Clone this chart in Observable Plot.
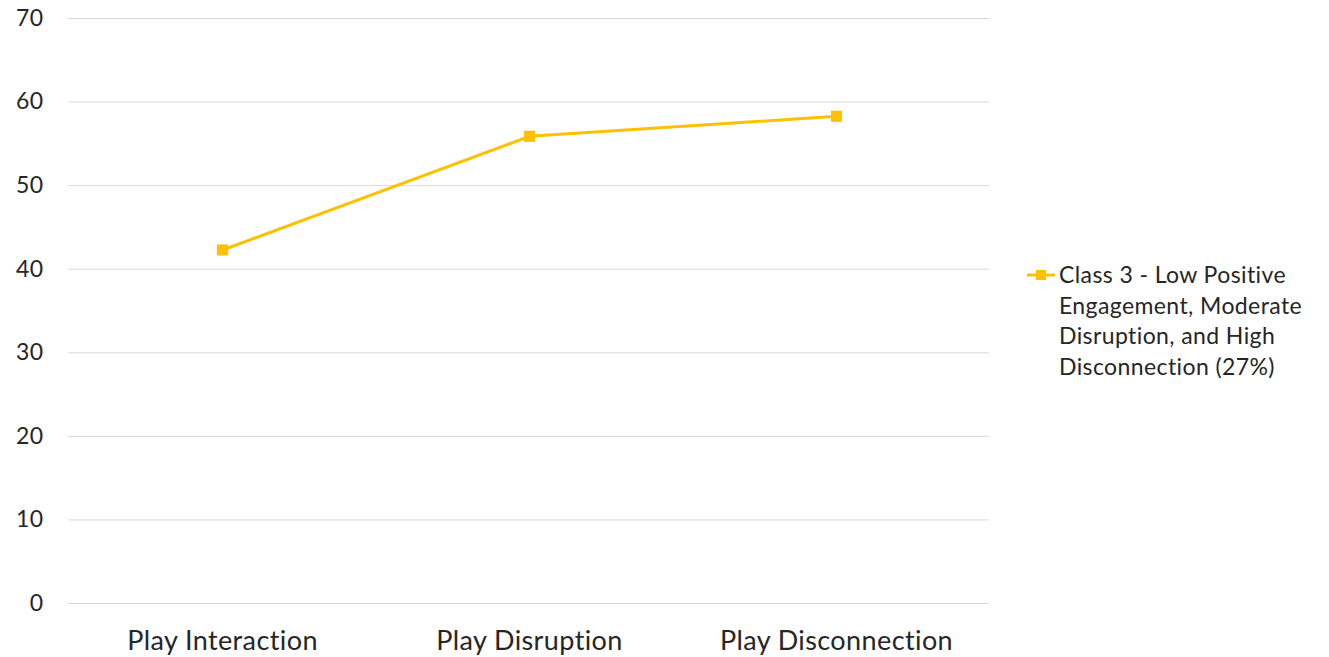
<!DOCTYPE html>
<html>
<head>
<meta charset="utf-8">
<script src="https://cdn.jsdelivr.net/npm/d3@7"></script>
<script src="https://cdn.jsdelivr.net/npm/@observablehq/plot@0.6"></script>
<style>
  html, body { margin: 0; padding: 0; background: #fff; }
  body { width: 1329px; height: 657px; position: relative; overflow: hidden; font-family: Lato, "Open Sans", sans-serif; }
  #chart { position: absolute; left: 0; top: 0; }
  #legend { position: absolute; left: 1026px; top: 259px; display: flex; align-items: flex-start; color: #262626; font-size: 23px; letter-spacing: 0.4px; line-height: 30.5px; }
  #legend svg { flex: none; margin-top: 6px; }
  #legend .txt { margin-left: 3px; width: 280px; }
</style>
</head>
<body>
<div id="chart"></div>
<div id="legend"></div>
<script>
const categories = ["Play Interaction", "Play Disruption", "Play Disconnection"];
const values = [42.3, 55.9, 58.3];
const seriesName = "Class 3 - Low Positive Engagement, Moderate Disruption, and High Disconnection (27%)";
const yTicks = [0, 10, 20, 30, 40, 50, 60, 70];
const color = "#FFC000";

const data = categories.map((c, i) => ({category: c, value: values[i]}));

const plot = Plot.plot({
  width: 1000,
  height: 657,
  marginLeft: 68,
  marginRight: 11,
  marginTop: 18,
  marginBottom: 54,
  style: {fontFamily: "Lato, 'Open Sans', sans-serif", color: "#262626", background: "#fff", letterSpacing: "0.4px"},
  x: {type: "point", domain: categories, padding: 0.5, label: null},
  y: {domain: [0, 70], ticks: yTicks, label: null},
  marks: [
    Plot.gridY(yTicks, {stroke: "#d9d9d9", strokeOpacity: 1, strokeWidth: 1}),
    Plot.axisY(yTicks, {tickSize: 0, tickPadding: 25, fontSize: 23, label: null, fill: "#262626"}),
    Plot.axisX({tickSize: 0, tickPadding: 27, fontSize: 27, label: null, fill: "#262626"}),
    Plot.line(data, {x: "category", y: "value", stroke: color, strokeWidth: 3}),
    Plot.dot(data, {x: "category", y: "value", symbol: "square", r: 6.3, fill: color, stroke: "none"})
  ]
});
document.getElementById("chart").appendChild(plot);

const legend = document.getElementById("legend");
legend.innerHTML = `<svg width="30" height="20"><line x1="1" x2="29" y1="10" y2="10" stroke="${color}" stroke-width="3"/><rect x="10" y="5" width="10" height="10" fill="${color}"/></svg><div class="txt">${seriesName.replace("Positive ", "Positive<br>").replace("Moderate ", "Moderate<br>").replace("High ", "High<br>")}</div>`;
</script>
</body>
</html>
